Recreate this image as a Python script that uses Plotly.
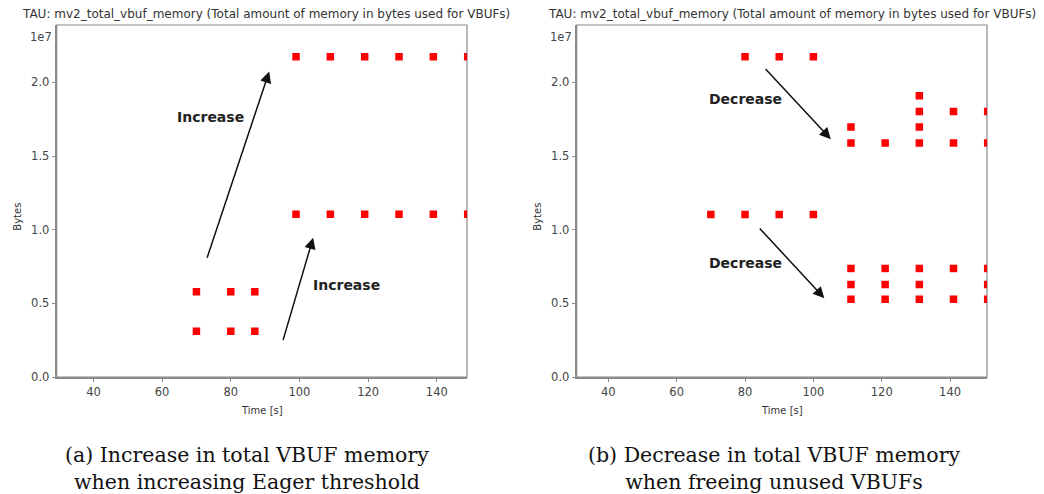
import plotly.graph_objects as go

# ---------------- data ----------------
# Panel (a): increase in total VBUF memory
a_low_times = [70, 80, 87]
a_low_row1 = [0.578e7, 0.578e7, 0.578e7]
a_low_row2 = [0.311e7, 0.311e7, 0.311e7]
a_high_times = [99, 109, 119, 129, 139, 149]
a_high_row1 = [2.175e7] * 6
a_high_row2 = [1.105e7] * 6

# Panel (b): decrease in total VBUF memory
b_top_times = [80, 90, 100]
b_top_vals = [2.175e7, 2.175e7, 2.175e7]
b_mid_times = [70, 80, 90, 100]
b_mid_vals = [1.104e7, 1.104e7, 1.104e7, 1.104e7]
b_r1_times = [111, 121, 131, 141, 151]
b_r1_vals = [1.589e7] * 5
b_r2_times = [111, 131]
b_r2_vals = [1.698e7, 1.698e7]
b_r3_times = [131, 141, 151]
b_r3_vals = [1.803e7] * 3
b_r4_times = [131]
b_r4_vals = [1.909e7]
b_l1_times = [111, 121, 131, 141, 151]
b_l1_vals = [0.737e7] * 5
b_l2_times = [111, 121, 131, 151]
b_l2_vals = [0.628e7] * 4
b_l3_times = [111, 121, 131, 141, 151]
b_l3_vals = [0.528e7] * 5

y_ticks = [0, 0.5e7, 1.0e7, 1.5e7, 2.0e7]
y_tick_labels = ["0.0", "0.5", "1.0", "1.5", "2.0"]
x_ticks = [40, 60, 80, 100, 120, 140]
x_tick_labels = ["40", "60", "80", "100", "120", "140"]

title_text = "TAU: mv2_total_vbuf_memory (Total amount of memory in bytes used for VBUFs)"
caption_a = "(a) Increase in total VBUF memory<br>when increasing Eager threshold"
caption_b = "(b) Decrease in total VBUF memory<br>when freeing unused VBUFs"

# arrows: (tail_x, tail_y, head_x, head_y) in data units
a_arrows = [(72.97, 0.80e7, 91.2, 2.074e7), (95.1, 0.24e7, 104.0, 0.946e7)]
a_labels = [(74.2, 1.764e7, "Increase"), (113.8, 0.625e7, "Increase")]
b_arrows = [(85.6, 2.102e7, 105.1, 1.615e7), (83.9, 1.019e7, 103.2, 0.535e7)]
b_labels = [(80.15, 1.887e7, "Decrease"), (80.15, 0.777e7, "Decrease")]

# ---------------- figure ----------------
W, H = 1044, 501
REF_H = 494  # picture height the layout fractions refer to
fig = go.Figure()

RED = "#ff0000"
mk = dict(symbol="square", size=7.5, color=RED)


def add_pts(xs, ys, xa, ya):
    fig.add_trace(go.Scatter(x=xs, y=ys, mode="markers", marker=mk,
                             xaxis=xa, yaxis=ya, showlegend=False,
                             cliponaxis=True, hoverinfo="x+y"))


for xs, ys in [(a_low_times, a_low_row1), (a_low_times, a_low_row2),
               (a_high_times, a_high_row1), (a_high_times, a_high_row2)]:
    add_pts(xs, ys, "x", "y")

for xs, ys in [(b_top_times, b_top_vals), (b_mid_times, b_mid_vals),
               (b_r1_times, b_r1_vals), (b_r2_times, b_r2_vals),
               (b_r3_times, b_r3_vals), (b_r4_times, b_r4_vals),
               (b_l1_times, b_l1_vals), (b_l2_times, b_l2_vals),
               (b_l3_times, b_l3_vals)]:
    add_pts(xs, ys, "x2", "y2")

AX_COL = "#8a8a8a"
TICK_FONT = dict(family="DejaVu Sans", size=11.5, color="#444444")


def py(p):
    """picture pixel (from top) -> paper fraction"""
    return 1 - p / REF_H


y_dom = [py(377), py(25)]
xa_dom = [56.7 / W, 467 / W]
xb_dom = [576.7 / W, 987 / W]

common_x = dict(tickmode="array", tickvals=x_ticks, ticktext=x_tick_labels,
                showgrid=False, zeroline=False, showline=True, linecolor=AX_COL,
                linewidth=2, ticks="outside", ticklen=3, tickcolor=AX_COL,
                tickfont=TICK_FONT, fixedrange=True)
common_y = dict(tickmode="array", tickvals=y_ticks, ticktext=y_tick_labels,
                showgrid=False, zeroline=False, showline=True, linecolor=AX_COL,
                linewidth=2, ticks="outside", ticklen=3, tickcolor=AX_COL,
                tickfont=TICK_FONT, fixedrange=True)

fig.update_layout(
    width=W, height=H,
    margin=dict(l=0, r=0, t=0, b=0),
    paper_bgcolor="white", plot_bgcolor="white",
    xaxis=dict(domain=xa_dom, range=[29.3, 148.8], anchor="y", **common_x),
    yaxis=dict(domain=y_dom, range=[0, 2.39e7], anchor="x", **common_y),
    xaxis2=dict(domain=xb_dom, range=[30.75, 150.8], anchor="y2", **common_x),
    yaxis2=dict(domain=y_dom, range=[0, 2.39e7], anchor="x2", **common_y),
)

# plot frames (top/right borders)
for xd in (xa_dom, xb_dom):
    fig.add_shape(type="rect", xref="paper", yref="paper",
                  x0=xd[0], x1=xd[1], y0=y_dom[0], y1=y_dom[1],
                  line=dict(color=AX_COL, width=1.2), layer="below")

ann = []
for cx, dom in ((266, xa_dom), (791.5, xb_dom)):
    ann.append(dict(text=title_text, x=cx / W, y=py(14), xref="paper", yref="paper",
                    showarrow=False, font=dict(family="DejaVu Sans", size=12, color="#333333"),
                    xanchor="center", yanchor="middle"))
    ann.append(dict(text="1e7", x=(dom[0] - 15.5 / W), y=py(37), xref="paper", yref="paper",
                    showarrow=False, font=TICK_FONT, xanchor="center", yanchor="middle"))
    ann.append(dict(text="Bytes", x=(dom[0] - 40 / W), y=py(217), xref="paper", yref="paper",
                    showarrow=False, font=dict(family="DejaVu Sans", size=10, color="#333333"),
                    textangle=-90, xanchor="center", yanchor="middle"))
    ann.append(dict(text="Time [s]", x=(dom[0] + dom[1]) / 2, y=py(410), xref="paper", yref="paper",
                    showarrow=False, font=dict(family="DejaVu Sans", size=10, color="#333333"),
                    xanchor="center", yanchor="middle"))

for arrows, labels, xr, yr in ((a_arrows, a_labels, "x", "y"), (b_arrows, b_labels, "x2", "y2")):
    for tx, ty, hx, hy in arrows:
        ann.append(dict(x=hx, y=hy, ax=tx, ay=ty, xref=xr, yref=yr, axref=xr, ayref=yr,
                        text="", showarrow=True, arrowhead=2, arrowsize=1.5,
                        arrowwidth=1.5, arrowcolor="#111111", standoff=0, startstandoff=0))
    for lx, ly, t in labels:
        ann.append(dict(x=lx, y=ly, xref=xr, yref=yr, text="<b>" + t + "</b>", showarrow=False,
                        font=dict(family="DejaVu Sans", size=14, color="#222222"),
                        xanchor="center", yanchor="middle"))

for cx, cap in ((246.5, caption_a), (773.5, caption_b)):
    ann.append(dict(text=cap, x=cx / W, y=py(468), xref="paper", yref="paper",
                    showarrow=False, font=dict(family="DejaVu Serif", size=20.5, color="#111111"),
                    xanchor="center", yanchor="middle", align="center"))

fig.update_layout(annotations=ann)
fig.write_html("out.html", config={"displayModeBar": False},
               post_script="document.body.style.margin='0';document.body.style.overflow='hidden';")
